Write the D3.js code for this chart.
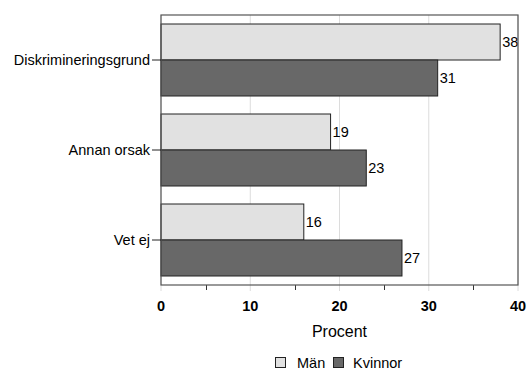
<!DOCTYPE html>
<html><head><meta charset="utf-8">
<script src="https://cdn.jsdelivr.net/npm/d3@7"></script>
<style>body{margin:0;background:#fff;} text{font-family:"Liberation Sans",Arial,sans-serif;}</style>
</head><body>
<svg id="c" width="527" height="371"></svg>
<script>
const categories = ["Diskrimineringsgrund", "Annan orsak", "Vet ej"];
const series = ["Män", "Kvinnor"];
const valuesMan = [38, 19, 16];
const valuesKvinnor = [31, 23, 27];
const xTicks = [0, 10, 20, 30, 40];
const minorTicks = [5, 15, 25, 35];
const colors = ["#e1e1e1", "#686868"];

const svg = d3.select("#c");
const m = {l: 161, r: 518, t: 15, b: 285};
const x = d3.scaleLinear().domain([0, 40]).range([m.l, m.r]);
const y = d3.scaleBand().domain(categories).range([m.t, m.b]).paddingInner(0.2).paddingOuter(0.1);
const ySub = d3.scaleBand().domain(series).range([0, y.bandwidth()]);

// gridlines (extend below the axis as light ticks)
svg.append("g").selectAll("line").data(xTicks).join("line")
  .attr("x1", d => x(d)).attr("x2", d => x(d))
  .attr("y1", m.t).attr("y2", m.b + 6)
  .attr("stroke", "#dcdcdc").attr("stroke-width", 1);

// minor ticks
svg.append("g").selectAll("line").data(minorTicks).join("line")
  .attr("x1", d => Math.round(x(d)) + 0.5).attr("x2", d => Math.round(x(d)) + 0.5)
  .attr("y1", m.b).attr("y2", m.b + 5)
  .attr("stroke", "#333").attr("stroke-width", 1);

// bars
const data = categories.map((c, i) => ({c, vals: [valuesMan[i], valuesKvinnor[i]]}));
const g = svg.append("g").selectAll("g").data(data).join("g")
  .attr("transform", d => `translate(0,${y(d.c)})`);
g.selectAll("rect").data(d => d.vals.map((v, j) => ({v, s: series[j], j}))).join("rect")
  .attr("x", x(0)).attr("y", d => ySub(d.s))
  .attr("width", d => x(d.v) - x(0)).attr("height", ySub.bandwidth())
  .attr("fill", d => colors[d.j]).attr("stroke", "#222").attr("stroke-width", 1);
g.selectAll("text").data(d => d.vals.map((v, j) => ({v, s: series[j]}))).join("text")
  .attr("x", d => x(d.v) + 2).attr("y", d => ySub(d.s) + ySub.bandwidth() / 2)
  .attr("dy", "0.35em").attr("font-size", 14.5).attr("fill", "#000")
  .text(d => d.v);

// frame
svg.append("rect").attr("x", m.l).attr("y", m.t).attr("width", m.r - m.l).attr("height", m.b - m.t)
  .attr("fill", "none").attr("stroke", "#555").attr("stroke-width", 1.2);

// x tick labels
svg.append("g").selectAll("text").data(xTicks).join("text")
  .attr("x", d => x(d)).attr("y", 311).attr("text-anchor", "middle")
  .attr("font-size", 14.5).attr("font-weight", "bold").text(d => d);

// y axis labels with ticks
const yl = svg.append("g");
yl.selectAll("line").data(categories).join("line")
  .attr("x1", m.l - 9).attr("x2", m.l)
  .attr("y1", d => y(d) + y.bandwidth() / 2).attr("y2", d => y(d) + y.bandwidth() / 2)
  .attr("stroke", "#222");
yl.selectAll("text").data(categories).join("text")
  .attr("x", m.l - 11).attr("y", d => y(d) + y.bandwidth() / 2).attr("dy", "0.35em")
  .attr("text-anchor", "end").attr("font-size", 14.5).text(d => d);

// axis title
svg.append("text").attr("x", (m.l + m.r) / 2).attr("y", 337).attr("text-anchor", "middle")
  .attr("font-size", 16).text("Procent");

// legend
const leg = svg.append("g").attr("transform", "translate(275,357)");
const legX = [0, 58];
series.forEach((s, i) => {
  leg.append("rect").attr("x", legX[i] + 0.5).attr("y", 0.5).attr("width", 10).attr("height", 10)
    .attr("fill", colors[i]).attr("stroke", "#222");
  leg.append("text").attr("x", legX[i] + (i === 0 ? 22 : 20)).attr("y", 11)
    .attr("font-size", 14.5).text(s);
});
</script>
</body></html>
